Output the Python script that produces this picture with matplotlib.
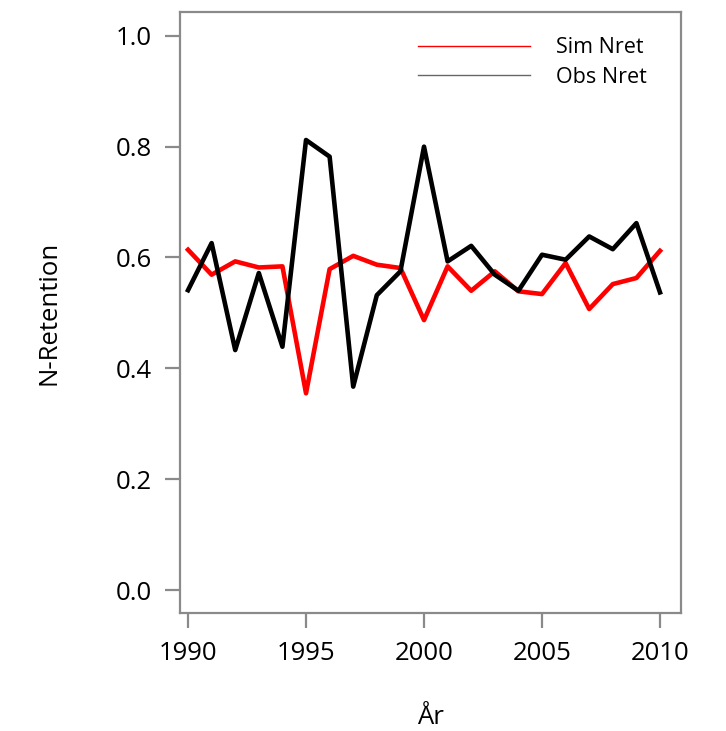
import matplotlib
matplotlib.use("Agg")
import matplotlib.pyplot as plt

# values
years = list(range(1990, 2011))
sim_nret = [0.614, 0.569, 0.593, 0.582, 0.584, 0.355, 0.579, 0.603, 0.587, 0.581, 0.487,
            0.584, 0.540, 0.575, 0.539, 0.534, 0.590, 0.507, 0.552, 0.563, 0.612]
obs_nret = [0.541, 0.626, 0.433, 0.572, 0.439, 0.812, 0.782, 0.367, 0.532, 0.575, 0.800,
            0.593, 0.621, 0.569, 0.540, 0.605, 0.596, 0.638, 0.615, 0.662, 0.537]
x_ticks = [1990, 1995, 2000, 2005, 2010]
y_ticks = [0.0, 0.2, 0.4, 0.6, 0.8, 1.0]

plt.rcParams["font.family"] = ["Open Sans", "DejaVu Sans"]
frame_col = "#8a8a8a"

fig = plt.figure(figsize=(7.26, 7.31), dpi=100)
ax = fig.add_axes([180 / 726, 118 / 731, 501 / 726, 601 / 731])

ax.plot(years, sim_nret, color="#ff0000", lw=3.3, label="Sim Nret")
ax.plot(years, obs_nret, color="black", lw=3.3, label="Obs Nret")

ax.set_xlim(1989.66, 2010.89)
ax.set_ylim(-0.0415, 1.043)
ax.set_xticks(x_ticks)
ax.set_yticks(y_ticks)
ax.set_yticklabels([f"{v:.1f}" for v in y_ticks])

for s in ax.spines.values():
    s.set_color(frame_col)
    s.set_linewidth(1.6)
ax.tick_params(direction="out", length=11, width=1.6, color=frame_col,
               labelsize=18.5, pad=9)

ax.set_xlabel("År", fontsize=18.5, labelpad=28)
ax.set_ylabel("N-Retention", fontsize=18.5, labelpad=39)

leg = ax.legend(loc="upper right", frameon=False, fontsize=15.5,
                handlelength=5.2, handletextpad=1.2, labelspacing=0.4,
                bbox_to_anchor=(0.97, 0.99))
for h in leg.get_lines():
    h.set_linewidth(1)
leg.get_lines()[1].set_color("#666666")

fig.savefig("out.png", dpi=100)
